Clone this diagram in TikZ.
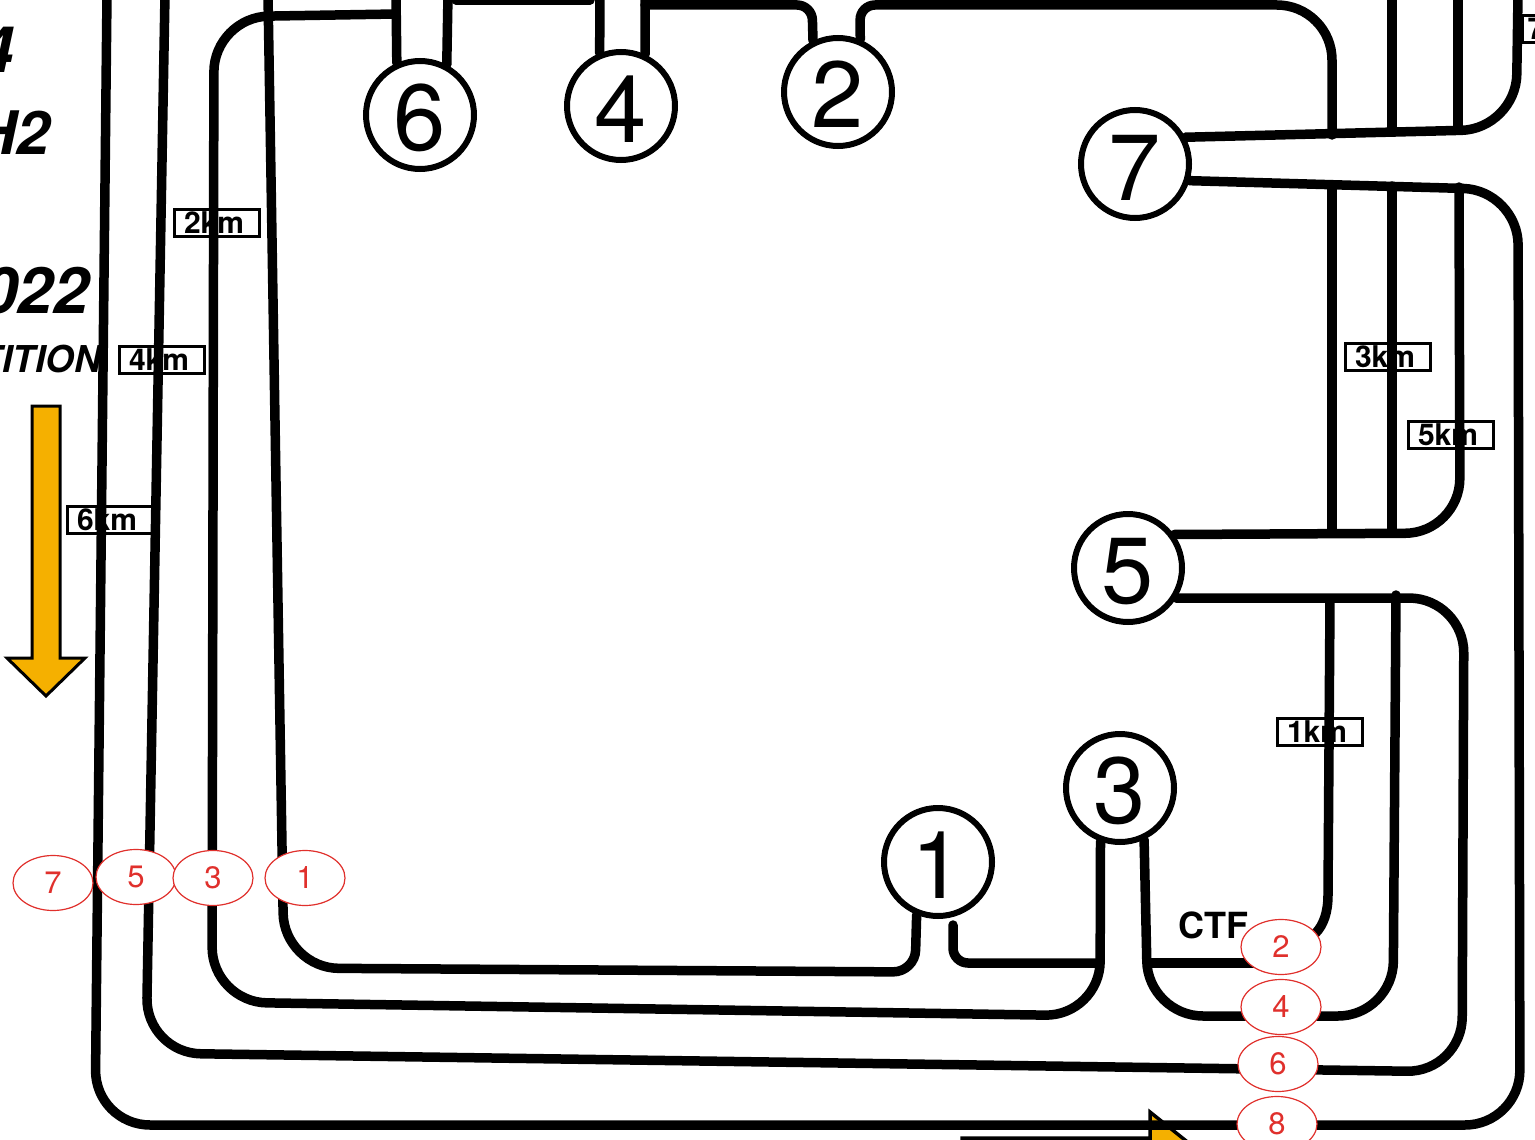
\documentclass[tikz,border=0pt]{standalone}
\usepackage{fontspec}
\setmainfont{TeX Gyre Heros}
\usetikzlibrary{arrows,backgrounds,shapes.geometric}
\definecolor{arrowgold}{HTML}{F5B000}
\definecolor{markred}{HTML}{E0302C}
\tikzset{
  station/.style={circle,draw,fill=white,line width=6pt,minimum size=108pt,inner sep=0pt,text height=72pt,font=\fontsize{94}{94}\selectfont},
  marker/.style={ellipse,draw=markred,fill=white,text=markred,line width=1.2pt,minimum width=80pt,minimum height=55pt,inner sep=0pt,font=\fontsize{31}{31}\selectfont},
  kmbox/.style={draw,line width=2.5pt,minimum height=27pt,inner ysep=0pt,inner xsep=9.5pt,text width=66pt,align=left,font=\bfseries\fontsize{30}{30}\selectfont},
  track/.style={line width=9.5pt,line cap=round,rounded corners=55pt},
  title/.style={anchor=east,inner sep=0pt,font=\bfseries\itshape\fontsize{#1}{#1}\selectfont}
}
\begin{document}
\begin{tikzpicture}[x=1pt,y=-1pt]
  \useasboundingbox (0,0) rectangle (1535,1140);

  \node[title=64] (tfour) at (14,50) {4};
  \node[title=60] (thtwo) at (50,133) {H2};
  \node[title=64] (tyear) at (89,291) {022};
  \node[title=37] (tcomp) at (101,359) {TITION};
  \node[font=\bfseries\fontsize{36}{36}\selectfont,inner sep=0pt] (ctf) at (1213,925) {CTF};

  \node[station] (n6) at (420,115) {6};
  \node[station] (n4) at (621,106) {4};
  \node[station] (n2) at (838,92) {2};
  \node[station] (n7) at (1135,164) {7};
  \node[station] (n5) at (1128,568) {5};
  \node[station] (n3) at (1120,788) {3};
  \node[station] (n1) at (938,862) {1};

  \node[marker] (m7) at (53,883) {7};
  \node[marker] (m5) at (136,877) {5};
  \node[marker] (m3) at (213,878) {3};
  \node[marker] (m1) at (305,878) {1};
  \node[marker] (m2) at (1281,947) {2};
  \node[marker] (m4) at (1281,1007) {4};
  \node[marker] (m6) at (1278,1064) {6};
  \node[marker] (m8) at (1277,1124) {8};

  \coordinate (t1) at (268,-5);
  \coordinate (t3) at (396,-5);
  \coordinate (t4) at (448,-5);
  \coordinate (t5) at (600,-5);
  \coordinate (t6) at (645,-5);
  \coordinate (t7) at (1392,-5);
  \coordinate (t8) at (1458,-5);
  \coordinate (a1) at (1392,130);
  \coordinate (a2) at (1458,130);
  \coordinate (b1) at (1332,185);
  \coordinate (b2) at (1392,186);
  \coordinate (c1) at (1332,530);
  \coordinate (c2) at (1392,532);
  \coordinate (d1) at (1330,600);
  \coordinate (j6) at (396,14);
  \coordinate (j3) at (1098,963);
  \coordinate (k3) at (1150,963);
  \coordinate (s1) at (953,925);
  \coordinate (u1) at (456,0);
  \coordinate (u2) at (590,0);
  \coordinate (u3) at (645,5);

  \begin{pgfonlayer}{background}
    \node[kmbox] (km2) at (217,223) {2km};
    \node[kmbox] (km4) at (162,360) {4km};
    \node[kmbox] (km6) at (110,520) {6km};
    \node[kmbox] (km3) at (1388,357) {3km};
    \node[kmbox] (km5) at (1451,435) {5km};
    \node[kmbox] (km1) at (1320,732) {1km};
    \node[kmbox,inner xsep=5pt,text width=75pt] (km7) at (1565,29) {7km};

    % arrows
    \draw[line width=3pt,fill=arrowgold] (32,406) -- (60,406) -- (60,658) -- (85,658) -- (46,696) -- (7,658) -- (32,658) -- cycle;
    \draw[line width=3.5pt,fill=arrowgold] (962,1138) -- (1150,1138) -- (1150,1112) -- (1200,1152) -- (1150,1192) -- (962,1170) -- cycle;

    \foreach \from/\to in {t3/n6.114,t4/n6.62,t5/n4.112,t6/n4.65,t7/a1,t8/a2,b1/c1,b2/c2,u1/u2}
    {
      \draw[track] (\from) -- (\to);
    }

    \draw[track] (n7.28) -- (1516,129) -- (1518,-5);
    \draw[track] (n7.-17) -- (1518,190) -- (1520,1125) -- (95,1125) -- (107,-5);
    \draw[track] (n5.36) -- (1460,533) -- (1459,187);
    \draw[track] (n5.-32) -- (1464,598) -- (1462,1072) -- (146,1053) -- (165,-5);
    \draw[track,sharp corners] (d1) -- (1328,895) .. controls (1328,930) and (1310,945) .. (m2.center);
    \draw[track] (n3.295) -- (1148,1016) -- (1393,1016) -- (1396,595);
    \draw[track] (n3.250) -- (1100,1016) -- (212,1002) -- (214,17) -- (j6);
    \draw[track] (t1) -- (284,968) [rounded corners=22pt] -- (915,972) -- (n1.248);
    \draw[track,rounded corners=15pt] (s1) -- (953,963) -- (j3);
    \draw[track] (k3) -- (k3 -| m2.center);
    \draw[track,rounded corners=15pt] (u3) -- (812,5) -- (n2.116);
    \draw[track,rounded corners=15pt] (n2.67) -- (860,5) [rounded corners=55pt] -- (1332,5) -- (1332,135);
  \end{pgfonlayer}
\end{tikzpicture}
\end{document}
